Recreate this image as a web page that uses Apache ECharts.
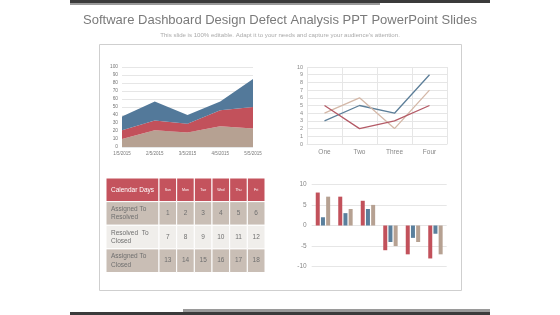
<!DOCTYPE html>
<html><head><meta charset="utf-8">
<script src="https://cdn.jsdelivr.net/npm/echarts@6/dist/echarts.min.js"></script>
<style>html,body{margin:0;padding:0;background:#fff}#c{width:560px;height:315px}</style>
</head><body><div id="c"></div>
<script>
// ---- data ----
const areaDates = ['1/5/2015','2/5/2015','3/5/2015','4/5/2015','5/5/2015'];
const areaTan = [10, 21, 18, 26, 23];
const areaRed = [11, 12, 11, 20, 27];
const areaBlue = [17, 24, 11, 11, 35];

const lineCats = ['One','Two','Three','Four'];
const lineBlue = [3, 5, 4, 9];
const lineRed = [5, 2, 3, 5];
const lineTan = [4, 6, 2, 7];

const tableHeader = ['Calendar Days','Sun','Mon','Tue','Wed','Thu','Fri'];
const tableRowLabels = ['Assigned To\nResolved','Resolved  To\nClosed','Assigned To\nClosed'];
const tableValues = [[1,2,3,4,5,6],[7,8,9,10,11,12],[13,14,15,16,17,18]];
const tableColEdges = [0,3,4,5,6,7,8,9];

const barCats = ['A','B','C','D','E','F'];
const barRed = [8, 7, 6, -6, -7, -8];
const barBlue = [2, 3, 4, -4, -3, -2];
const barTan = [7, 4, 5, -5, -4, -7];

// ---- styles ----
const C_BLUE = '#53799A', C_RED = '#C2515B', C_TAN = '#B6A192';
const FONT = 'Liberation Sans, Arial, sans-serif';

// table cells
const tableData = [];
const rowNames = ['h','r1','r2','r3'];
for (let c = 0; c < 7; c++) {
  tableData.push([tableColEdges[c], tableColEdges[c+1], 0, tableHeader[c], c === 0 ? 'hl' : 'hd']);
}
for (let r = 0; r < 3; r++) {
  tableData.push([tableColEdges[0], tableColEdges[1], r+1, tableRowLabels[r], 'rl' + r]);
  for (let c = 0; c < 6; c++) {
    tableData.push([tableColEdges[c+1], tableColEdges[c+2], r+1, String(tableValues[r][c]), 'v' + r]);
  }
}

const chart = echarts.init(document.getElementById('c'), null, {renderer:'canvas'});
const gridLine = {show:true, lineStyle:{color:'#e6e6e6', width:1}};
const axisLbl = (fs) => ({color:'#777', fontSize:fs, fontFamily:FONT});

chart.setOption({
  animation:false,
  title:[
    {text:'Software Dashboard Design Defect Analysis PPT PowerPoint Slides', left:'center', top:9,
     textStyle:{fontFamily:FONT, fontSize:13, fontWeight:'normal', color:'#7a7a7a'}},
    {text:"This slide is 100% editable. Adapt it to your needs and capture your audience's attention.", left:'center', top:27,
     textStyle:{fontFamily:FONT, fontSize:6.1, fontWeight:'normal', color:'#aaaaaa'}}
  ],
  graphic:[
    {type:'rect', shape:{x:99.5, y:44.5, width:362, height:246}, style:{fill:'#fff', stroke:'#cfcfcf', lineWidth:1}, z:-10},
    {type:'rect', shape:{x:70, y:0, width:420, height:3}, style:{fill:'#3b3b3b'}},
    {type:'rect', shape:{x:70, y:3, width:310, height:2}, style:{fill:'#9a9a9a'}},
    {type:'rect', shape:{x:183, y:309, width:307, height:3}, style:{fill:'#9a9a9a'}},
    {type:'rect', shape:{x:70, y:312, width:420, height:3}, style:{fill:'#3b3b3b'}}
  ],
  grid:[
    {left:122, top:67, width:131, height:80},
    {left:307, top:67, width:140, height:77},
    {left:106, top:178, width:159, height:94.5},
    {left:311.7, top:184.3, width:135, height:82.4}
  ],
  xAxis:[
    {gridIndex:0, type:'category', data:areaDates, boundaryGap:false,
     axisLine:{show:false}, axisTick:{show:false}, axisLabel:Object.assign(axisLbl(4.5),{margin:4}), splitLine:{show:false}},
    {gridIndex:1, type:'category', data:lineCats, boundaryGap:true,
     axisLine:{show:true, lineStyle:{color:'#e6e6e6'}}, axisTick:{show:false}, axisLabel:Object.assign(axisLbl(6.5),{margin:5, color:'#888'}), splitLine:gridLine},
    {gridIndex:2, type:'value', min:0, max:9, show:false},
    {gridIndex:3, type:'category', data:barCats, show:false}
  ],
  yAxis:[
    {gridIndex:0, type:'value', min:0, max:100, interval:10,
     axisLine:{show:false}, axisTick:{show:false}, axisLabel:Object.assign(axisLbl(4.8),{margin:4}), splitLine:gridLine},
    {gridIndex:1, type:'value', min:0, max:10, interval:1,
     axisLine:{show:false}, axisTick:{show:false}, axisLabel:Object.assign(axisLbl(5.5),{margin:4, color:'#888'}), splitLine:gridLine},
    {gridIndex:2, type:'category', data:rowNames, inverse:true, show:false},
    {gridIndex:3, type:'value', min:-10, max:10, interval:5,
     axisLine:{show:false}, axisTick:{show:false}, axisLabel:Object.assign(axisLbl(6.5),{margin:5, color:'#888'}), splitLine:gridLine}
  ],
  series:[
    {type:'line', xAxisIndex:0, yAxisIndex:0, stack:'a', data:areaTan, symbol:'none', lineStyle:{width:0}, areaStyle:{color:C_TAN, opacity:1}, itemStyle:{color:C_TAN}},
    {type:'line', xAxisIndex:0, yAxisIndex:0, stack:'a', data:areaRed, symbol:'none', lineStyle:{width:0}, areaStyle:{color:C_RED, opacity:1}, itemStyle:{color:C_RED}},
    {type:'line', xAxisIndex:0, yAxisIndex:0, stack:'a', data:areaBlue, symbol:'none', lineStyle:{width:0}, areaStyle:{color:C_BLUE, opacity:1}, itemStyle:{color:C_BLUE}},

    {type:'line', xAxisIndex:1, yAxisIndex:1, data:lineBlue, symbol:'none', lineStyle:{width:1.3, color:'#5D7F99'}},
    {type:'line', xAxisIndex:1, yAxisIndex:1, data:lineTan, symbol:'none', lineStyle:{width:1.3, color:'#D4B8A8'}},
    {type:'line', xAxisIndex:1, yAxisIndex:1, data:lineRed, symbol:'none', lineStyle:{width:1.3, color:'#B45A66'}},

    {type:'custom', xAxisIndex:2, yAxisIndex:2, data:tableData, encode:{x:[0,1], y:2},
     renderItem:function(params, api){
       const x0 = api.value(0), x1 = api.value(1), row = api.value(2);
       const kind = tableData[params.dataIndex][4];
       const txt = tableData[params.dataIndex][3];
       const p0 = api.coord([x0, row]), p1 = api.coord([x1, row]);
       const h = api.size([0, 1])[1];
       const rect = {x:p0[0], y:p0[1]-h/2, width:p1[0]-p0[0], height:h};
       let fill, color = '#6f6f6f', fs = 6.5, align = 'center', tx = (p0[0]+p1[0])/2;
       if (kind === 'hl' || kind === 'hd') { fill = '#C4535D'; color = '#fff'; fs = kind === 'hl' ? 6.5 : 3.6; }
       else if (kind === 'rl1' || kind === 'v1') { fill = '#F0EEEB'; }
       else { fill = '#C9BEB5'; }
       if (kind === 'hl' || kind.indexOf('rl') === 0) { align = 'left'; tx = p0[0] + 5; }
       return {type:'group', children:[
         {type:'rect', shape:rect, style:{fill:fill, stroke:'#fff', lineWidth:1}},
         {type:'text', style:{text:txt, x:tx, y:p0[1], textAlign:align, textVerticalAlign:'middle', fill:color, fontSize:fs, fontFamily:FONT, lineHeight:fs*1.25}}
       ]};
     }},

    {type:'bar', xAxisIndex:3, yAxisIndex:3, data:barRed, barWidth:4, barGap:'30%', itemStyle:{color:C_RED}},
    {type:'bar', xAxisIndex:3, yAxisIndex:3, data:barBlue, barWidth:4, barGap:'30%', itemStyle:{color:'#5A7F9C'}},
    {type:'bar', xAxisIndex:3, yAxisIndex:3, data:barTan, barWidth:4, barGap:'30%', itemStyle:{color:C_TAN}}
  ]
});
</script></body></html>
